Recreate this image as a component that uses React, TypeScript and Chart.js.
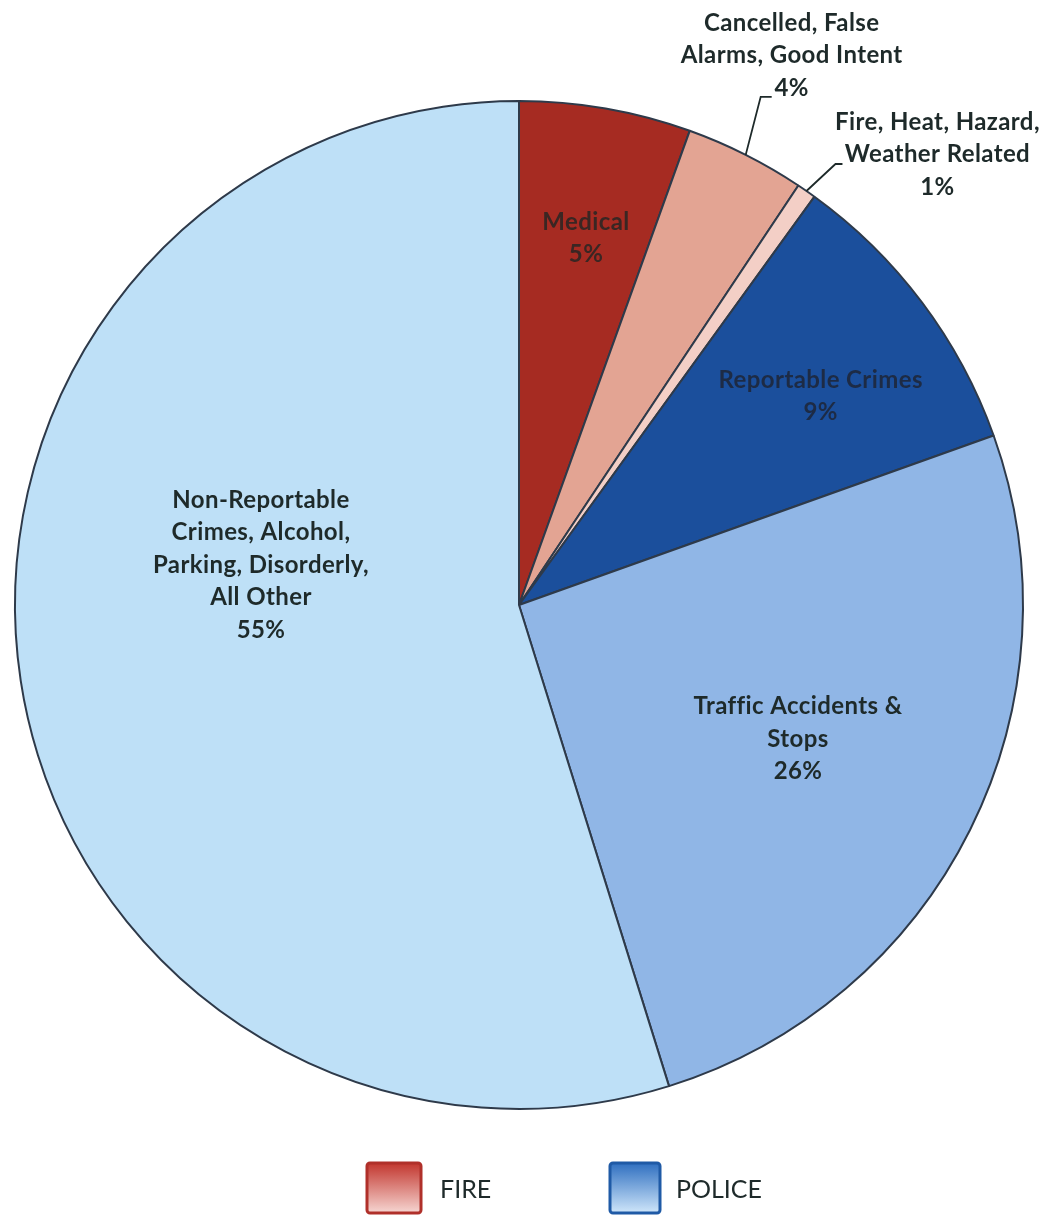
import React, { useEffect, useRef } from "react";
import { Chart, registerables } from "chart.js";
Chart.register(...registerables);

// ---- data ----
const categories = [
  "Medical",
  "Cancelled, False Alarms, Good Intent",
  "Fire, Heat, Hazard, Weather Related",
  "Reportable Crimes",
  "Traffic Accidents & Stops",
  "Non-Reportable Crimes, Alcohol, Parking, Disorderly, All Other",
];
const labelLines = [
  ["Medical"],
  ["Cancelled, False", "Alarms, Good Intent"],
  ["Fire, Heat, Hazard,", "Weather Related"],
  ["Reportable Crimes"],
  ["Traffic Accidents &", "Stops"],
  ["Non-Reportable", "Crimes, Alcohol,", "Parking, Disorderly,", "All Other"],
];
const shares = [5.5, 3.85, 0.62, 9.57, 25.65, 54.81];
const percentLabels = ["5%", "4%", "1%", "9%", "26%", "55%"];
const sliceColors = ["#a62b22", "#e3a493", "#f3cfc6", "#1b4f9c", "#90b6e6", "#bee0f7"];
const groupNames = ["FIRE", "POLICE"];
const groupTop = ["#c2362e", "#2f6fc0"];
const groupBottom = ["#f6d6d2", "#cfe6fa"];
const groupBorder = ["#b0302a", "#1f5aa6"];

// ---- label placement (style) ----
type Place =
  | { mode: "in"; r: number; dAng: number }
  | { mode: "out"; elbow: [number, number]; stub: [number, number]; text: [number, number] };
const placements: Place[] = [
  { mode: "in", r: 0.74, dAng: 0.45 },
  { mode: "out", elbow: [15, -58], stub: [26, -58], text: [46, -67] },
  { mode: "out", elbow: [29, -27], stub: [36, -27], text: [131, -4] },
  { mode: "in", r: 0.728, dAng: 2.2 },
  { mode: "in", r: 0.614, dAng: -0.9 },
  { mode: "in", r: 0.518, dAng: 17.45 },
];
const labelColors = ["#3a2623", "#1e2a2a", "#1e2a2a", "#1d2b45", "#1e2a2a", "#1e2a2a"];
const LINE_H = 32.5;
const FONT = "bold 24px Lato, 'Open Sans', sans-serif";

const labelPlugin = {
  id: "sliceLabels",
  afterDatasetsDraw(chart: any) {
    const ctx = chart.ctx;
    const meta = chart.getDatasetMeta(0);
    ctx.save();
    ctx.font = FONT;
    try { (ctx as any).letterSpacing = "0.4px"; } catch (e) {}
    ctx.textAlign = "center";
    ctx.textBaseline = "middle";
    meta.data.forEach((arc: any, i: number) => {
      const p = arc.getProps(["x", "y", "startAngle", "endAngle", "outerRadius"], true);
      const lines = [...labelLines[i], percentLabels[i]];
      const pl = placements[i];
      const mid = (p.startAngle + p.endAngle) / 2;
      let cx: number, lastY: number;
      if (pl.mode === "in") {
        const a = mid + (pl.dAng * Math.PI) / 180;
        const rr = p.outerRadius * pl.r;
        cx = p.x + rr * Math.cos(a);
        const cy = p.y + rr * Math.sin(a);
        lastY = cy + ((lines.length - 1) / 2) * LINE_H;
      } else {
        const ax = p.x + p.outerRadius * Math.cos(mid);
        const ay = p.y + p.outerRadius * Math.sin(mid);
        ctx.strokeStyle = "#1e2a2a";
        ctx.lineWidth = 1.8;
        ctx.beginPath();
        ctx.moveTo(ax, ay);
        ctx.lineTo(ax + pl.elbow[0], ay + pl.elbow[1]);
        ctx.lineTo(ax + pl.stub[0], ay + pl.stub[1]);
        ctx.stroke();
        cx = ax + pl.text[0];
        lastY = ay + pl.text[1];
      }
      ctx.fillStyle = labelColors[i];
      lines.forEach((t, k) => {
        ctx.fillText(t, cx, lastY - (lines.length - 1 - k) * LINE_H);
      });
    });
    ctx.restore();
  },
};

const legendBoxes = [
  { x: 367, y: 1163, w: 54, h: 50, tx: 440 },
  { x: 610, y: 1163, w: 50, h: 50, tx: 676 },
];

const legendPlugin = {
  id: "groupLegend",
  afterDraw(chart: any) {
    const ctx = chart.ctx;
    ctx.save();
    groupNames.forEach((name, i) => {
      const b = legendBoxes[i];
      const g = ctx.createLinearGradient(0, b.y, 0, b.y + b.h);
      g.addColorStop(0, groupTop[i]);
      g.addColorStop(1, groupBottom[i]);
      ctx.fillStyle = g;
      ctx.strokeStyle = groupBorder[i];
      ctx.lineWidth = 3;
      ctx.beginPath();
      if ((ctx as any).roundRect) (ctx as any).roundRect(b.x, b.y, b.w, b.h, 3);
      else ctx.rect(b.x, b.y, b.w, b.h);
      ctx.fill();
      ctx.stroke();
      ctx.fillStyle = "#1e2a2a";
      ctx.font = "25px Lato, 'Open Sans', sans-serif";
      ctx.textAlign = "left";
      ctx.textBaseline = "middle";
      ctx.fillText(name, b.tx, b.y + b.h / 2 + 2);
    });
    ctx.restore();
  },
};

export default function App() {
  const ref = useRef<HTMLCanvasElement | null>(null);
  useEffect(() => {
    if (!ref.current) return;
    const chart = new Chart(ref.current, {
      type: "pie",
      data: {
        labels: categories,
        datasets: [
          {
            data: shares,
            backgroundColor: sliceColors,
            borderColor: "#2e3a4a",
            borderWidth: 2,
          },
        ],
      },
      options: {
        animation: false,
        responsive: false,
        devicePixelRatio: 1,
        layout: { padding: { left: 13, right: 24, top: 100, bottom: 105 } },
        plugins: {
          legend: { display: false },
          tooltip: { enabled: false },
          title: { display: false },
        },
      },
      plugins: [labelPlugin, legendPlugin],
    });
    return () => chart.destroy();
  }, []);
  return (
    <div style={{ position: "absolute", left: 0, top: 0, width: 1049, height: 1215, background: "#fff" }}>
      <canvas ref={ref} width={1049} height={1215} style={{ display: "block" }} />
    </div>
  );
}
